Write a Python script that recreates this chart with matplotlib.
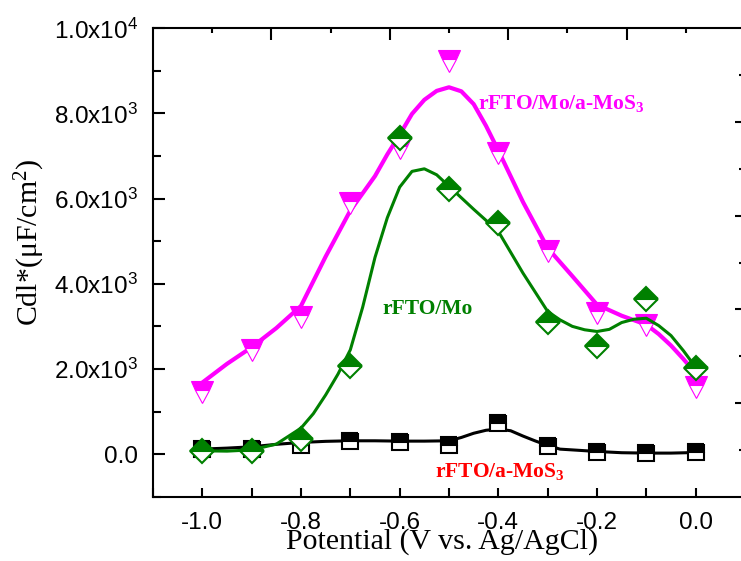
import matplotlib.pyplot as plt
from matplotlib.ticker import MultipleLocator

plt.rcParams['font.family'] = ['Liberation Sans', 'DejaVu Sans']
plt.rcParams['mathtext.default'] = 'regular'

# measured points (V vs. Ag/AgCl, uF/cm2)
potential = [-1.0, -0.9, -0.8, -0.7, -0.6, -0.5, -0.4, -0.3, -0.2, -0.1, 0.0]
cdl_mo_amos3 = [1470, 2440, 3215, 5900, 7180, 9230, 7080, 4760, 3310, 3040, 1580]
cdl_mo = [80, 70, 360, 2080, 7420, 6220, 5430, 3100, 2550, 3650, 2020]
cdl_amos3 = [125, 118, 220, 300, 294, 223, 737, 195, 59, 19, 47]

# smoothed fit curves
fit_x_mag = [-1.0, -0.95, -0.9, -0.85, -0.8, -0.75, -0.7, -0.65, -0.625, -0.6, -0.575,
             -0.55, -0.525, -0.5, -0.475, -0.45, -0.425, -0.4, -0.35, -0.3, -0.25,
             -0.2, -0.15, -0.1, -0.075, -0.05, -0.025, 0.0]
fit_mag = [1680, 2120, 2510, 2960, 3480, 4640, 5720, 6530, 7040, 7500, 7990,
           8320, 8530, 8615, 8520, 8220, 7710, 7130, 5920, 4840, 4180,
           3510, 3250, 3040, 2820, 2550, 2235, 1900]

fit_x_grn = [-1.0, -0.95, -0.9, -0.85, -0.8, -0.775, -0.75, -0.725, -0.7, -0.675, -0.65,
             -0.625, -0.6, -0.575, -0.55, -0.525, -0.5, -0.45, -0.4, -0.35, -0.3,
             -0.275, -0.25, -0.225, -0.2, -0.175, -0.15, -0.125, -0.1, -0.075, -0.05,
             -0.025, 0.0]
fit_grn = [78, 70, 100, 235, 610, 950, 1390, 1880, 2450, 3450, 4620,
           5553, 6270, 6640, 6700, 6560, 6290, 5750, 5230, 4250, 3350,
           3153, 3000, 2920, 2880, 2930, 3090, 3168, 3191, 3019, 2784,
           2431, 2038]

fit_x_blk = [-1.0, -0.95, -0.9, -0.85, -0.8, -0.75, -0.7, -0.65, -0.6, -0.55, -0.5,
             -0.475, -0.45, -0.425, -0.4, -0.375, -0.35, -0.325, -0.3, -0.275, -0.25,
             -0.2, -0.15, -0.1, -0.05, 0.0]
fit_blk = [118, 141, 172, 230, 274, 300, 313, 313, 305, 305, 313,
           391, 490, 560, 588, 549, 424, 309, 204, 117, 99,
           62, 33, 24, 24, 38]

x_ticks = [-1.0, -0.8, -0.6, -0.4, -0.2, 0.0]
x_labels = ['-1.0', '-0.8', '-0.6', '-0.4', '-0.2', '0.0']
y_ticks = [0, 2000, 4000, 6000, 8000, 10000]
y_labels = ['0.0', '2.0x10$^{3}$', '4.0x10$^{3}$', '6.0x10$^{3}$', '8.0x10$^{3}$', '1.0x10$^{4}$']

magenta = '#FF00FF'
green = '#008000'
serif = ['Liberation Serif', 'DejaVu Serif']

fig = plt.figure(figsize=(7.41, 5.61), dpi=100)
ax = fig.add_axes([153 / 741, 64.3 / 561, 592 / 741, 468.4 / 561])

# black (rFTO/a-MoS3) at the bottom, then magenta, then green on top
ax.plot(fit_x_blk, fit_blk, color='black', lw=2.2, solid_joinstyle='round', zorder=2)
ax.plot(potential, cdl_amos3, ls='none', marker='s', ms=12, mfc='black',
        mfcalt='white', fillstyle='top', mec='black', mew=1.5, zorder=3)

ax.plot(fit_x_mag, fit_mag, color=magenta, lw=3, solid_joinstyle='round', zorder=4)
ax.plot(potential, cdl_mo_amos3, ls='none', marker='v', ms=16, mfc=magenta,
        mfcalt='white', fillstyle='top', mec=magenta, mew=0.8, zorder=5)

ax.plot(fit_x_grn, fit_grn, color=green, lw=2.2, solid_joinstyle='round', zorder=6)
ax.plot(potential, cdl_mo, ls='none', marker='D', ms=12.5, mfc=green,
        mfcalt='white', fillstyle='top', mec=green, mew=1.5, zorder=7)

ax.set_xlim(-1.1, 0.1)
ax.set_ylim(-1000, 10000)
ax.set_xticks(x_ticks)
ax.set_xticklabels(x_labels)
ax.xaxis.set_minor_locator(MultipleLocator(0.1))
ax.set_yticks(y_ticks)
ax.set_yticklabels(y_labels)
ax.yaxis.set_minor_locator(MultipleLocator(1000))
ax.tick_params(axis='x', which='both', direction='in', length=6.5, width=1.5,
               labelsize=17.5, pad=11)
ax.tick_params(axis='y', which='major', direction='in', length=8.5, width=1.5,
               labelsize=17.5, pad=11)
ax.tick_params(axis='y', which='minor', direction='in', length=6, width=1.5)
for s in ax.spines.values():
    s.set_linewidth(1.5)

# odd extra tick sets on top and right axes
axt = ax.twiny()
axt.set_xlim(0, 10)
axt.set_xticks([2, 4, 6, 8])
axt.set_xticks([1, 3, 5, 7, 9], minor=True)
axt.tick_params(which='major', direction='in', length=8.5, width=1.5, labeltop=False)
axt.tick_params(which='minor', direction='in', length=3.5, width=1.5)
axr = ax.twinx()
axr.set_ylim(0, 10)
axr.set_yticks([2, 4, 6, 8])
axr.set_yticks([1, 3, 5, 7, 9], minor=True)
axr.tick_params(which='major', direction='in', length=7, width=1.5, labelright=False)
axr.tick_params(which='minor', direction='in', length=4, width=1.5)
for a in (axt, axr):
    for s in a.spines.values():
        s.set_visible(False)

# series labels
ax.text(-0.441, 8094, 'rFTO/Mo/a-MoS$_3$', color=magenta, fontweight='bold',
        family=serif, size=15.5, va='baseline', zorder=8)
ax.text(-0.634, 3294, 'rFTO/Mo', color=green, fontweight='bold',
        family=serif, size=15.5, va='baseline', zorder=8)
ax.text(-0.528, -534, 'rFTO/a-MoS$_3$', color='red', fontweight='bold',
        family=serif, size=15.5, va='baseline', zorder=8)

fig.text(442 / 741, (561 - 542) / 561, 'Potential (V vs. Ag/AgCl)', family=serif,
         size=21.5, ha='center', va='center')
fig.text(30 / 741, (561 - 242) / 561, 'Cdl*(\u03bcF/cm$^2$)', family=serif,
         size=21.5, rotation=90, ha='center', va='center')

fig.savefig('out.png', dpi=100)
